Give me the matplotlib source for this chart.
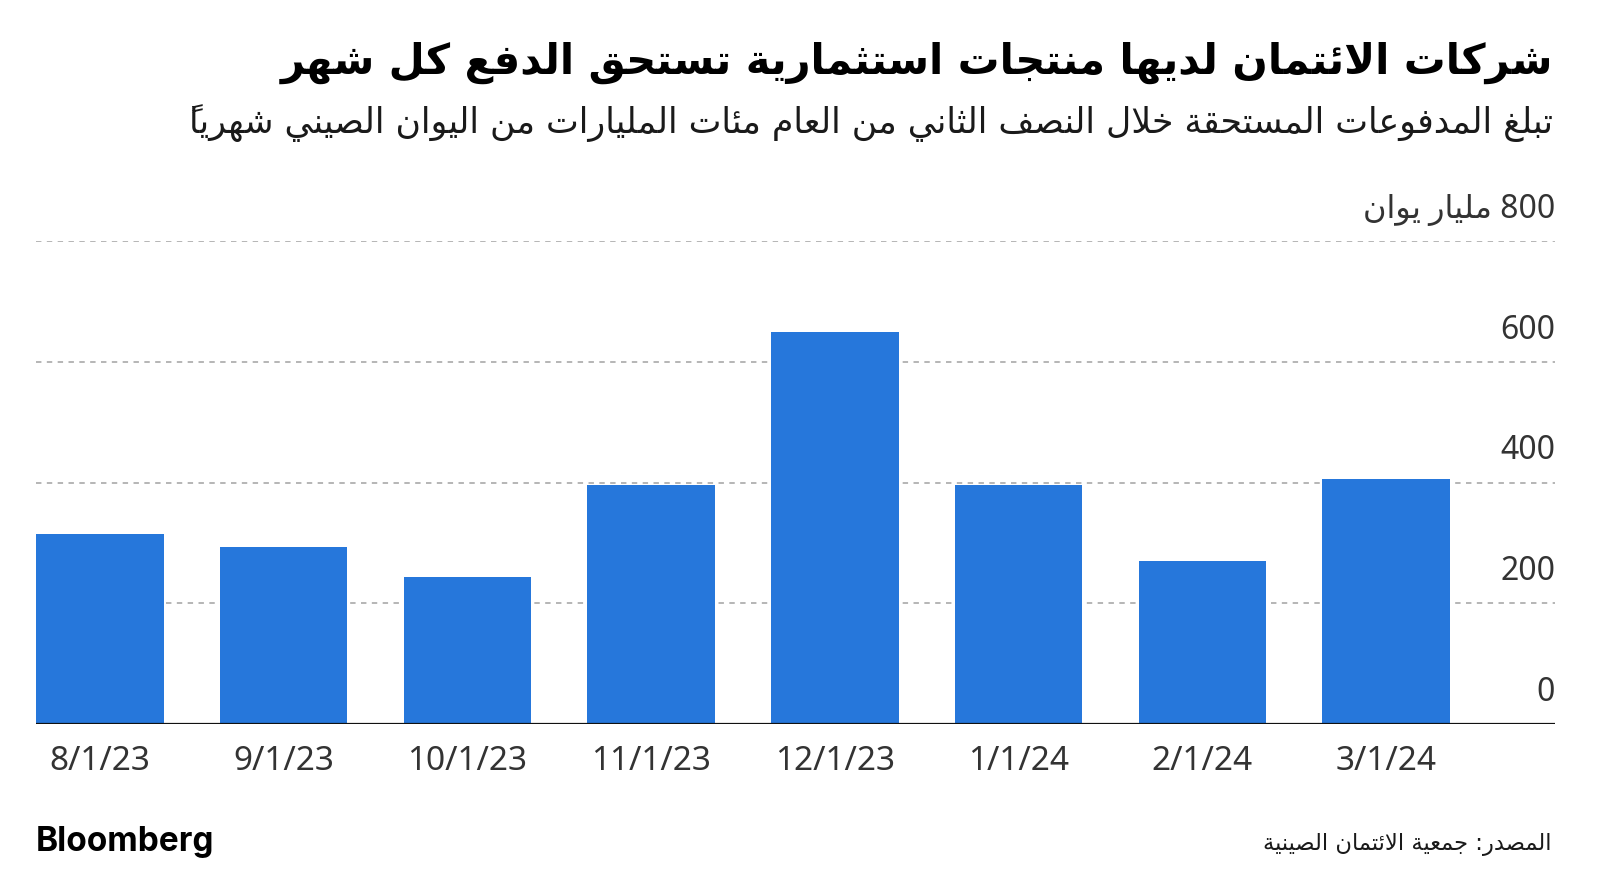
import matplotlib
matplotlib.use('Agg')
import matplotlib.pyplot as plt
from matplotlib.transforms import blended_transform_factory

# Данные графика
dates = ['8/1/23', '9/1/23', '10/1/23', '11/1/23', '12/1/23', '1/1/24', '2/1/24', '3/1/24']
values = [315, 293, 244, 396, 650, 396, 271, 406]
y_ticks = [0, 200, 400, 600, 800]

title = 'شركات الائتمان لديها منتجات استثمارية تستحق الدفع كل شهر'
subtitle = 'تبلغ المدفوعات المستحقة خلال النصف الثاني من العام مئات المليارات من اليوان الصيني شهرياً'
unit = 'مليار يوان'
source = 'المصدر: جمعية الائتمان الصينية'

# --- минимальная арабская контекстная форма + RTL (matplotlib сам не умеет) ---
DUAL = {'ئ': 0xFE89, 'ب': 0xFE8F, 'ت': 0xFE95, 'ث': 0xFE99, 'ج': 0xFE9D, 'ح': 0xFEA1,
        'خ': 0xFEA5, 'س': 0xFEB1, 'ش': 0xFEB5, 'ص': 0xFEB9, 'ض': 0xFEBD, 'ط': 0xFEC1,
        'ظ': 0xFEC5, 'ع': 0xFEC9, 'غ': 0xFECD, 'ف': 0xFED1, 'ق': 0xFED5, 'ك': 0xFED9,
        'ل': 0xFEDD, 'م': 0xFEE1, 'ن': 0xFEE5, 'ه': 0xFEE9, 'ي': 0xFEF1}
RIGHT = {'آ': 0xFE81, 'أ': 0xFE83, 'ؤ': 0xFE85, 'إ': 0xFE87, 'ا': 0xFE8D, 'ة': 0xFE93,
         'د': 0xFEA9, 'ذ': 0xFEAB, 'ر': 0xFEAD, 'ز': 0xFEAF, 'و': 0xFEED, 'ى': 0xFEEF}
LAM_ALEF = {'آ': 0xFEF5, 'أ': 0xFEF7, 'إ': 0xFEF9, 'ا': 0xFEFB}


def is_mark(ch):
    return 0x064B <= ord(ch) <= 0x065F or ord(ch) == 0x0670


def shape(s):
    chars = list(s)

    def nb(i, step):
        j = i + step
        while 0 <= j < len(chars) and is_mark(chars[j]):
            j += step
        return j if 0 <= j < len(chars) else None

    out = []
    i = 0
    while i < len(chars):
        c = chars[i]
        if is_mark(c) and out:
            out[-1] += c
            i += 1
            continue
        p = nb(i, -1)
        jp = p is not None and chars[p] in DUAL
        n = nb(i, 1)
        if c == 'ل' and n is not None and chars[n] in LAM_ALEF:
            out.append(chr(LAM_ALEF[chars[n]] + (1 if jp else 0)))
            i = n + 1
            continue
        if c in DUAL:
            jn = n is not None and (chars[n] in DUAL or chars[n] in RIGHT)
            idx = (3 if jp else 2) if jn else (1 if jp else 0)
            out.append(chr(DUAL[c] + idx))
        elif c in RIGHT:
            out.append(chr(RIGHT[c] + (1 if jp else 0)))
        else:
            out.append(c)
        i += 1
    return out


def rtl(s):
    runs, buf = [], []
    for cl in shape(s):
        if cl[0].isascii() and cl[0].isalnum():
            buf.append(cl)
        else:
            if buf:
                runs.append(''.join(buf))
                buf = []
            # огласовку ставим перед буквой, чтобы она легла над ней
            runs.append(''.join(reversed(cl)))
    if buf:
        runs.append(''.join(buf))
    return ''.join(reversed(runs))


AR = ['Noto Sans', 'DejaVu Sans']
BAR_COLOR = '#2677DB'
TEXT = '#1a1a1a'
TICK = '#333333'

fig = plt.figure(figsize=(16, 8.94), dpi=100)
ax = fig.add_axes([0.0225, 0.190, 0.9495, 0.540])

x = list(range(len(dates)))
ax.bar(x, values, width=0.694, color=BAR_COLOR, zorder=2)

ax.set_xlim(-0.347, 7.92)
ax.set_ylim(0, 800)

# сетка (пунктир) и подписи оси Y над линиями справа
trans = blended_transform_factory(ax.transAxes, ax.transData)
for v in y_ticks:
    if v > 0:
        ax.axhline(v, color='#b0b0b0', linestyle=(0, (3, 3)), linewidth=1.3, zorder=1)
    label = f'{v} {unit}' if v == y_ticks[-1] else str(v)
    ax.annotate(rtl(label), xy=(1.0, v), xycoords=trans, xytext=(0, 11), textcoords='offset points',
                ha='right', va='bottom', fontsize=23, color=TICK, family=AR)

ax.axhline(0, color='#111111', linewidth=1.6, zorder=3)

ax.set_yticks([])
ax.set_xticks(x)
ax.set_xticklabels(dates, fontsize=24, color=TICK, family='Noto Sans')
ax.tick_params(axis='x', length=0, pad=15)
for s in ax.spines.values():
    s.set_visible(False)

# Заголовки
fig.text(0.9705, 0.930, rtl(title), ha='right', va='center', fontsize=30, fontweight='bold',
         color='#000000', family=['DejaVu Sans'])
fig.text(0.9705, 0.862, rtl(subtitle), ha='right', va='center', fontsize=25,
         color=TEXT, family=['DejaVu Sans'])

# Подвал
fig.text(0.0225, 0.058, 'Bloomberg', ha='left', va='center', fontsize=24, fontweight='bold',
         color='#000000', family='Inter')
fig.text(0.9695, 0.055, rtl(source), ha='right', va='center', fontsize=16.3,
         color=TEXT, family=['DejaVu Sans'])

fig.savefig('out.png', dpi=100)
